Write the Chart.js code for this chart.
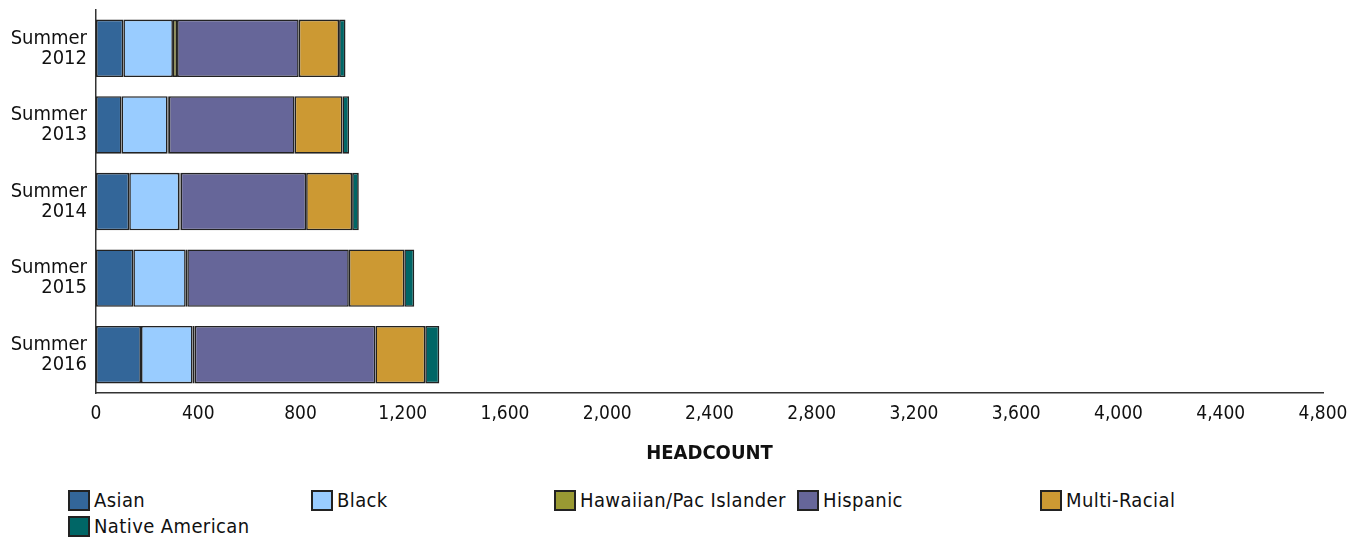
<!DOCTYPE html>
<html>
<head>
<meta charset="utf-8">
<script src="https://cdn.jsdelivr.net/npm/chart.js@4/dist/chart.umd.min.js"></script>
<style>
  html, body { margin: 0; padding: 0; background: #fff; }
  body { width: 1360px; height: 539px; position: relative; overflow: hidden; font-family: "DejaVu Sans Condensed", "DejaVu Sans", sans-serif; }
  #wrap { position: absolute; left: 0; top: 0; width: 1360px; height: 475px; }
  #legend { position: absolute; left: 68px; top: 489px; width: 1290px; }
  .item { position: absolute; height: 22px; display: flex; align-items: center; font-size: 20px; letter-spacing: 0.4px; color: #111; white-space: nowrap; }
  .box { width: 22px; height: 21px; border: 2px solid #222; box-sizing: border-box; margin-right: 4px; flex: none; }
</style>
</head>
<body>
<div id="wrap"><canvas id="c"></canvas></div>
<div id="legend"></div>
<script>
const categories = [["Summer","2012"],["Summer","2013"],["Summer","2014"],["Summer","2015"],["Summer","2016"]];
const seriesNames = ["Asian","Black","Hawaiian/Pac Islander","Hispanic","Multi-Racial","Native American"];
const seriesColors = ["#336699","#99CCFF","#999933","#666699","#CC9933","#006666"];
const asian    = [107, 100, 130, 146, 176];
const black    = [194, 180, 196, 205, 202];
const hawaiian = [16, 5, 5, 6, 8];
const hispanic = [476, 492, 491, 632, 707];
const multi    = [158, 187, 180, 217, 195];
const native   = [25, 26, 26, 39, 55];
const xMin = 0, xMax = 4800, xStep = 400;
const axisTitle = "HEADCOUNT";

const seriesData = [asian, black, hawaiian, hispanic, multi, native];
const FONT = "'DejaVu Sans Condensed', 'DejaVu Sans', sans-serif";

const chart = new Chart(document.getElementById('c'), {
  type: 'bar',
  data: {
    labels: categories,
    datasets: seriesNames.map((n, i) => ({
      label: n,
      data: seriesData[i],
      backgroundColor: seriesColors[i],
      borderColor: '#222',
      borderWidth: 1.6,
      borderSkipped: false,
      barPercentage: 0.75,
      categoryPercentage: 1.0
    }))
  },
  options: {
    indexAxis: 'y',
    responsive: true,
    maintainAspectRatio: false,
    animation: false,
    layout: { padding: { left: 0, right: 37, top: 10, bottom: 0 } },
    plugins: { legend: { display: false }, tooltip: { enabled: false } },
    scales: {
      x: {
        stacked: true,
        min: xMin, max: xMax,
        ticks: { stepSize: xStep, color: '#111', font: { family: FONT, size: 19 }, padding: 2, maxRotation: 0,
                 callback: v => v.toLocaleString('en-US') },
        grid: { display: false },
        border: { display: true, color: '#333', width: 1.5 },
        title: { display: true, text: axisTitle, color: '#111', font: { family: FONT, size: 20, weight: 'bold' }, padding: { top: 1, bottom: 9 } },
        afterFit: s => { s.height = 82; s.paddingLeft = 0; }
      },
      y: {
        stacked: true,
        ticks: { color: '#111', font: { family: FONT, size: 20, lineHeight: 1.0 }, padding: 1 },
        grid: { display: false },
        border: { display: true, color: '#333', width: 1.5 },
        afterFit: s => { s.width = 96; s.paddingTop = 0; s.paddingBottom = 0; }
      }
    }
  }
});

const legend = document.getElementById('legend');
seriesNames.forEach((n, i) => {
  const col = i % 5, row = Math.floor(i / 5);
  const d = document.createElement('div');
  d.className = 'item';
  d.style.left = (col * 243) + 'px';
  d.style.top = (row * 26) + 'px';
  d.innerHTML = '<span class="box" style="background:' + seriesColors[i] + '"></span><span></span>';
  d.lastChild.textContent = n;
  legend.appendChild(d);
});
</script>
</body>
</html>
